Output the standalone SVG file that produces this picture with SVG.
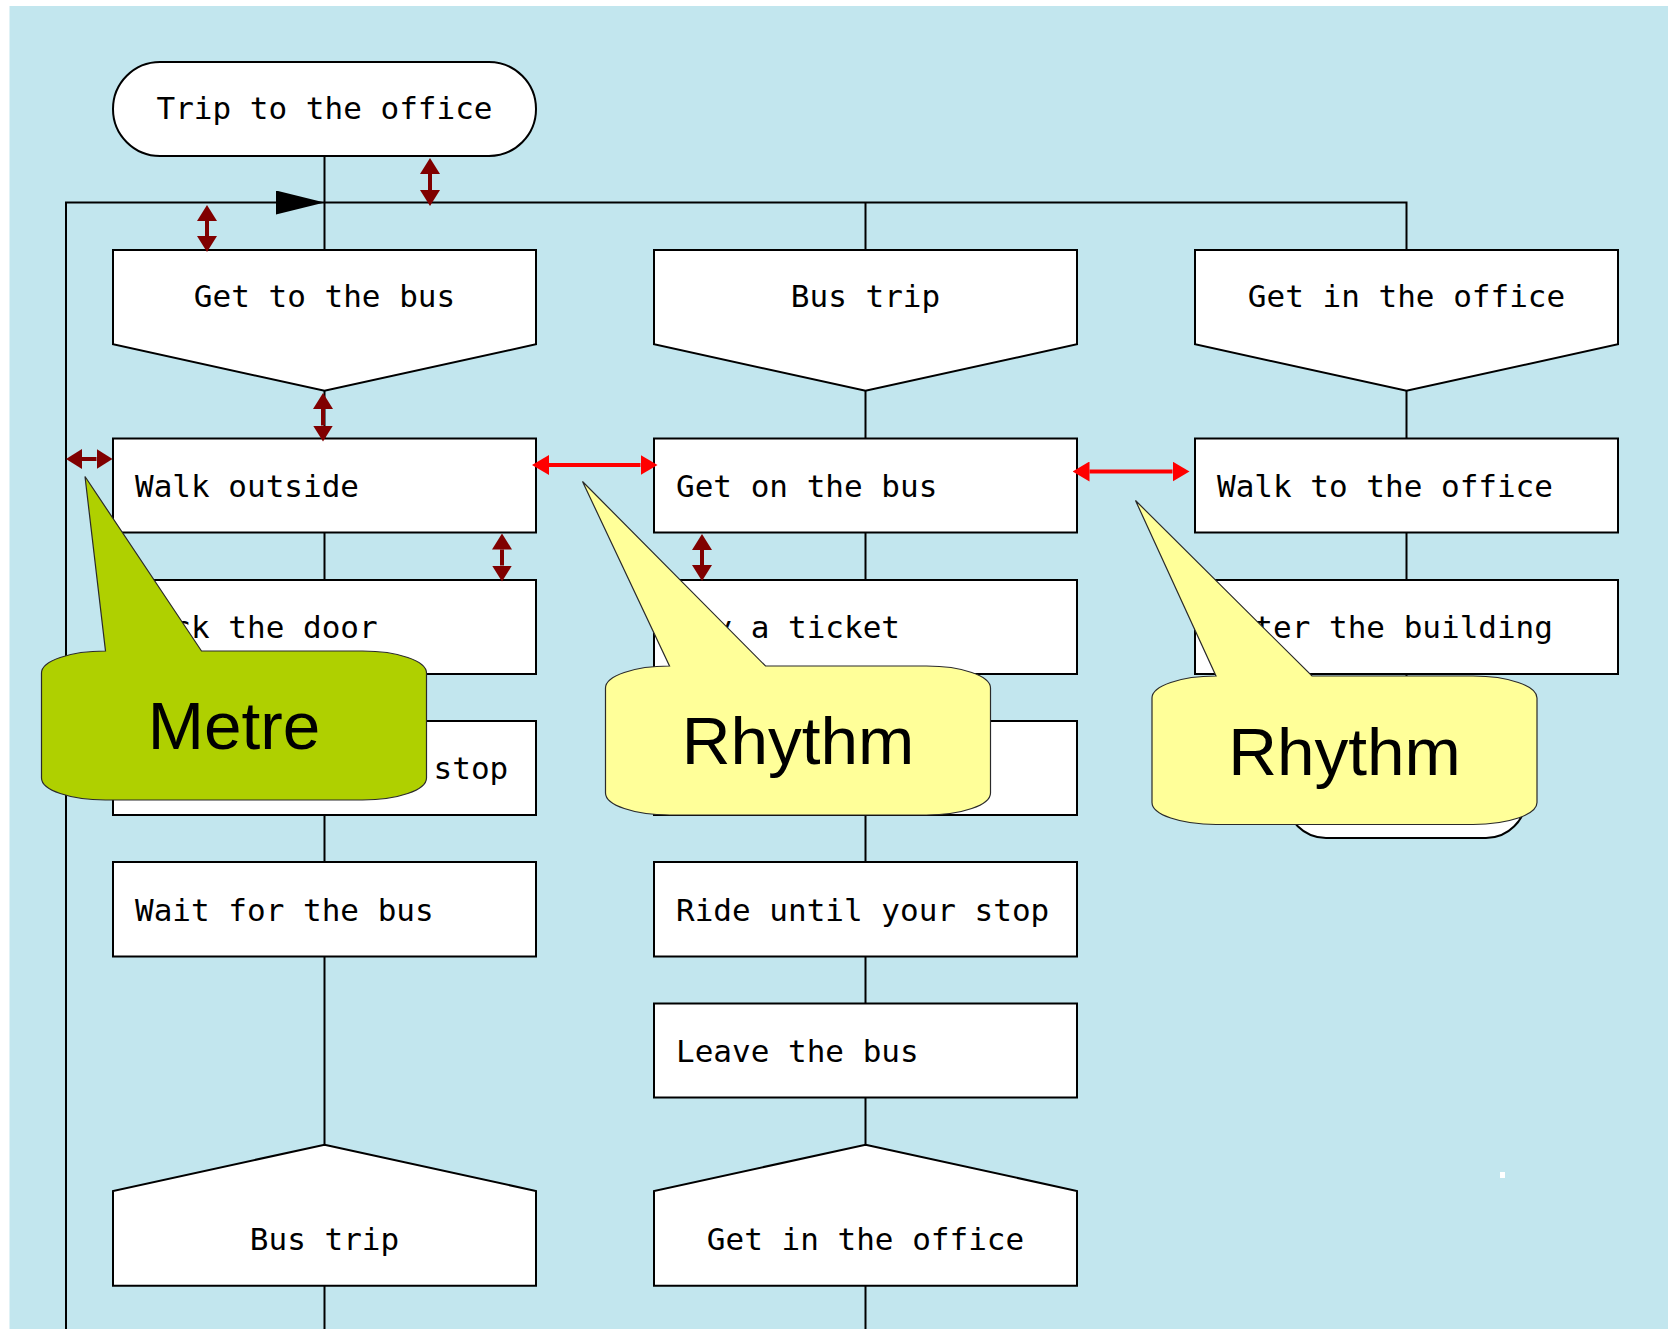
<svg xmlns="http://www.w3.org/2000/svg" width="1668" height="1329" viewBox="0 0 1668 1329">
<style>
.bg{fill:#c2e6ee}
.nd{fill:#fff;stroke:#000;stroke-width:2}
.ln{fill:none;stroke:#000;stroke-width:2}
.t{font-family:"DejaVu Sans Mono","Liberation Mono",monospace;font-size:31px;fill:#000}
.c{text-anchor:middle}
.dr{stroke:#800000;stroke-width:4;fill:none}
.rd{stroke:#ff0000;stroke-width:4;fill:none}
.co{stroke:#2a2a2a;stroke-width:1.2}
.ct{font-family:"Liberation Sans",Arial,sans-serif;font-size:67.5px;fill:#000;text-anchor:middle}
</style>
<defs>
<marker id="mdr" markerUnits="userSpaceOnUse" markerWidth="16" markerHeight="20" refX="0" refY="10" viewBox="0 0 16 20" orient="auto-start-reverse"><path d="M0,0 L16,10 L0,20 Z" fill="#800000"/></marker>
<marker id="mrd" markerUnits="userSpaceOnUse" markerWidth="17" markerHeight="20" refX="0" refY="10" viewBox="0 0 17 20" orient="auto-start-reverse"><path d="M0,0 L17,10 L0,20 Z" fill="#ff0000"/></marker>
<marker id="mbk" markerUnits="userSpaceOnUse" markerWidth="48.5" markerHeight="24" refX="48.5" refY="12" viewBox="0 0 48.5 24" orient="auto"><path d="M0,0 L48.5,12 L0,24 Z" fill="#000"/></marker>
</defs>
<rect class="bg" x="9.5" y="6" width="1659" height="1323"/>
<g id="connectors">
<polyline class="ln" points="66,1329 66,202.5 324.5,202.5" marker-end="url(#mbk)"/>
<polyline class="ln" points="324.5,202.5 1406.5,202.5 1406.5,250"/>
<line class="ln" x1="324.5" y1="155.7" x2="324.5" y2="250"/>
<line class="ln" x1="865.5" y1="202.5" x2="865.5" y2="250"/>
<line class="ln" x1="324.5" y1="390.7" x2="324.5" y2="1144.7"/>
<line class="ln" x1="324.5" y1="1285.7" x2="324.5" y2="1329"/>
<line class="ln" x1="865.5" y1="390.7" x2="865.5" y2="1144.7"/>
<line class="ln" x1="865.5" y1="1285.7" x2="865.5" y2="1329"/>
<line class="ln" x1="1406.5" y1="390.7" x2="1406.5" y2="758"/>
</g>
<g id="n-start"><rect class="nd" x="113" y="62" width="423" height="94" rx="47"/><text class="t c" x="324.5" y="119">Trip to the office</text></g>
<g id="n-c1-head"><path class="nd" d="M113,250 H536 V344.3 L324.5,390.7 L113,344.3 Z"/><text class="t c" x="324.5" y="307">Get to the bus</text></g>
<g id="n-c2-head"><path class="nd" d="M654,250 H1077 V344.3 L865.5,390.7 L654,344.3 Z"/><text class="t c" x="865.5" y="307">Bus trip</text></g>
<g id="n-c3-head"><path class="nd" d="M1195,250 H1618 V344.3 L1406.5,390.7 L1195,344.3 Z"/><text class="t c" x="1406.5" y="307">Get in the office</text></g>
<g id="n-c1-r1"><rect class="nd" x="113" y="438.5" width="423" height="94"/><text class="t" x="135" y="496.5">Walk outside</text></g>
<g id="n-c1-r2"><rect class="nd" x="113" y="580" width="423" height="94"/><text class="t" x="135" y="637.5">Lock the door</text></g>
<g id="n-c1-r3"><rect class="nd" x="113" y="721" width="423" height="94"/><text class="t" x="135" y="778.5">Walk to the bus stop</text></g>
<g id="n-c1-r4"><rect class="nd" x="113" y="862" width="423" height="94.5"/><text class="t" x="135" y="920.5">Wait for the bus</text></g>
<g id="n-c1-foot"><path class="nd" d="M324.5,1144.7 L536,1191 V1285.7 H113 V1191 Z"/><text class="t c" x="324.5" y="1250">Bus trip</text></g>
<g id="n-c2-r1"><rect class="nd" x="654" y="438.5" width="423" height="94"/><text class="t" x="676" y="496.5">Get on the bus</text></g>
<g id="n-c2-r2"><rect class="nd" x="654" y="580" width="423" height="94"/><text class="t" x="676" y="637.5">Buy a ticket</text></g>
<g id="n-c2-r3"><rect class="nd" x="654" y="721" width="423" height="94"/></g>
<g id="n-c2-r4"><rect class="nd" x="654" y="862" width="423" height="94.5"/><text class="t" x="676" y="920.5">Ride until your stop</text></g>
<g id="n-c2-r5"><rect class="nd" x="654" y="1003.5" width="423" height="94"/><text class="t" x="676" y="1061.5">Leave the bus</text></g>
<g id="n-c2-foot"><path class="nd" d="M865.5,1144.7 L1077,1191 V1285.7 H654 V1191 Z"/><text class="t c" x="865.5" y="1250">Get in the office</text></g>
<g id="n-c3-r1"><rect class="nd" x="1195" y="438.5" width="423" height="94"/><text class="t" x="1217" y="496.5">Walk to the office</text></g>
<g id="n-c3-r2"><rect class="nd" x="1195" y="580" width="423" height="94"/><text class="t" x="1217" y="637.5">Enter the building</text></g>
<g id="n-c3-end"><rect class="nd" x="1286" y="758" width="240" height="80" rx="40"/></g>
<g id="links">
<line class="dr" x1="430" y1="174" x2="430" y2="190" marker-start="url(#mdr)" marker-end="url(#mdr)"/>
<line class="dr" x1="207" y1="221" x2="207" y2="236" marker-start="url(#mdr)" marker-end="url(#mdr)"/>
<line class="dr" x1="323" y1="409" x2="323" y2="425.5" marker-start="url(#mdr)" marker-end="url(#mdr)"/>
<line class="dr" x1="82" y1="459" x2="96.5" y2="459" marker-start="url(#mdr)" marker-end="url(#mdr)"/>
<line class="dr" x1="502" y1="549.5" x2="502" y2="565.5" marker-start="url(#mdr)" marker-end="url(#mdr)"/>
<line class="dr" x1="702" y1="550" x2="702" y2="565" marker-start="url(#mdr)" marker-end="url(#mdr)"/>
<line class="rd" x1="549" y1="465" x2="640.5" y2="465" marker-start="url(#mrd)" marker-end="url(#mrd)"/>
<line class="rd" x1="1089.5" y1="471.5" x2="1172.5" y2="471.5" marker-start="url(#mrd)" marker-end="url(#mrd)"/>
</g>
<g id="callout-metre">
<path class="co" fill="#afd000" d="M41.5,673 A64,22 0 0 1 105.5,651 L85,476.5 L201.5,651 L362.5,651 A64,22 0 0 1 426.5,673 L426.5,778 A64,22 0 0 1 362.5,800 L105.5,800 A64,22 0 0 1 41.5,778 Z"/>
<text class="ct" x="234" y="748.5">Metre</text>
</g>
<g id="callout-rhythm-1">
<path class="co" fill="#ffff99" d="M605.5,688 A64,22 0 0 1 669.5,666 L582.5,481.5 L765.5,666 L926.5,666 A64,22 0 0 1 990.5,688 L990.5,793 A64,22 0 0 1 926.5,815 L669.5,815 A64,22 0 0 1 605.5,793 Z"/>
<text class="ct" x="798" y="763.5">Rhythm</text>
</g>
<g id="callout-rhythm-2">
<path class="co" fill="#ffff99" d="M1152,698 A64,22 0 0 1 1216,676 L1135.5,500.5 L1312,676 L1473,676 A64,22 0 0 1 1537,698 L1537,802.5 A64,22 0 0 1 1473,824.5 L1216,824.5 A64,22 0 0 1 1152,802.5 Z"/>
<text class="ct" x="1344.5" y="774.5">Rhythm</text>
</g>
<rect x="1500" y="1172" width="5" height="6" fill="#fff"/>
</svg>
